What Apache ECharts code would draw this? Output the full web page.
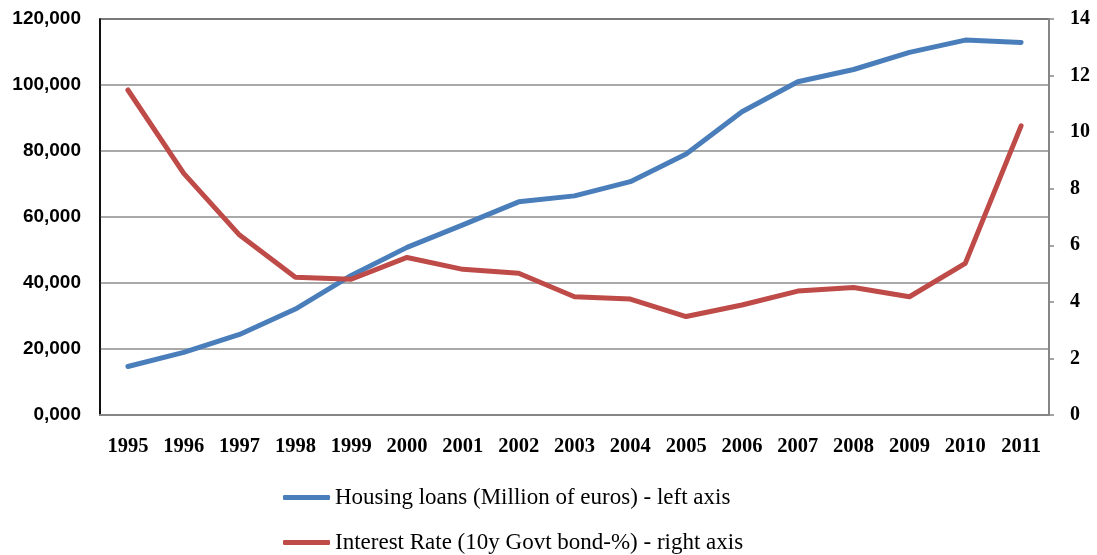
<!DOCTYPE html>
<html>
<head>
<meta charset="utf-8">
<script src="https://cdn.jsdelivr.net/npm/echarts@6/dist/echarts.min.js"></script>
<style>html,body{margin:0;padding:0;background:#fff}#c{width:1097px;height:555px}</style>
</head>
<body>
<div id="c"></div>
<script>
const years = ['1995','1996','1997','1998','1999','2000','2001','2002','2003','2004','2005','2006','2007','2008','2009','2010','2011'];
const housingLoans = [14700, 19000, 24400, 32100, 42300, 50800, 57600, 64600, 66400, 70700, 79100, 91900, 101000, 104700, 109900, 113600, 112900];
const interestRate = [11.49, 8.54, 6.36, 4.87, 4.80, 5.57, 5.15, 5.01, 4.18, 4.10, 3.48, 3.89, 4.38, 4.51, 4.18, 5.36, 10.22];
const seriesNames = ['Housing loans (Million of euros) - left axis', 'Interest Rate (10y Govt bond-%) - right axis'];

const chart = echarts.init(document.getElementById('c'), null, {renderer: 'canvas'});
const legendText = {fontFamily: '"Liberation Serif", serif', fontSize: 23, color: '#000'};
chart.setOption({
  animation: false,
  grid: {left: 100, right: 48, top: 19, bottom: 140, show: true, borderColor: '#000', borderWidth: 1.5, containLabel: false},
  legend: [
    {data: [seriesNames[0]], left: 283, top: 486, padding: 0, orient: 'vertical', itemWidth: 47, itemHeight: 5, icon: 'roundRect', itemGap: 6, textStyle: legendText},
    {data: [seriesNames[1]], left: 283, top: 531, padding: 0, orient: 'vertical', itemWidth: 47, itemHeight: 5, icon: 'roundRect', itemGap: 6, textStyle: legendText}
  ],
  xAxis: {
    type: 'category', data: years, boundaryGap: true,
    axisLine: {lineStyle: {color: '#868686', width: 2}},
    axisTick: {show: false},
    axisLabel: {margin: 21, fontFamily: '"Liberation Serif", serif', fontWeight: 'bold', fontSize: 20.5, color: '#000', interval: 0}
  },
  yAxis: [
    {
      type: 'value', min: 0, max: 120000, interval: 20000,
      axisLine: {show: true, lineStyle: {color: '#000', width: 1.5}},
      axisTick: {show: false},
      splitLine: {lineStyle: {color: '#8c8c8c', width: 1.5}},
      axisLabel: {margin: 19, fontFamily: '"Liberation Sans", Arial, sans-serif', fontWeight: 'bold', fontSize: 19, color: '#000',
        formatter: v => Math.round(v / 1000) + ',000'}
    },
    {
      type: 'value', min: 0, max: 14, interval: 2, position: 'right',
      axisLine: {show: true, lineStyle: {color: '#868686', width: 2}},
      axisTick: {show: true, length: 5, inside: false, lineStyle: {color: '#868686', width: 1.5}},
      splitLine: {show: false},
      axisLabel: {margin: 21, fontFamily: '"Liberation Serif", serif', fontWeight: 'bold', fontSize: 20, color: '#000'}
    }
  ],
  series: [
    {name: seriesNames[0], type: 'line', yAxisIndex: 0, data: housingLoans, showSymbol: false, symbol: 'none',
      lineStyle: {color: '#4A7EBB', width: 5, cap: 'round', join: 'round'}, itemStyle: {color: '#4A7EBB'}},
    {name: seriesNames[1], type: 'line', yAxisIndex: 1, data: interestRate, showSymbol: false, symbol: 'none',
      lineStyle: {color: '#BE4B48', width: 5, cap: 'round', join: 'round'}, itemStyle: {color: '#BE4B48'}}
  ]
});
</script>
</body>
</html>
